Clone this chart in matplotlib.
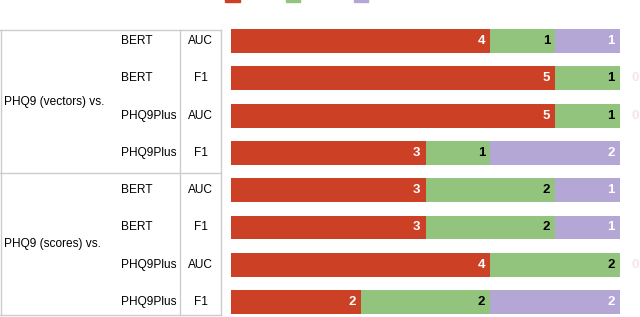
import matplotlib.pyplot as plt
from matplotlib.patches import Patch

plt.rcParams['font.family'] = ['Liberation Sans', 'DejaVu Sans']

groups = ["PHQ9 (vectors) vs.", "PHQ9 (scores) vs."]
models = ["BERT", "BERT", "PHQ9Plus", "PHQ9Plus"] * 2
metrics = ["AUC", "F1", "AUC", "F1"] * 2
win = [4, 5, 5, 3, 3, 3, 4, 2]
draw = [1, 1, 1, 1, 2, 2, 2, 2]
loss = [1, 0, 0, 2, 1, 1, 0, 2]

colors = ["#cc4125", "#93c47d", "#b4a7d6"]
txt_colors = ["white", "black", "white"]
W, H = 640, 317


def fy(p):
    return 1 - p / H


fig = plt.figure(figsize=(W / 100, H / 100), dpi=100)
ax = fig.add_axes([231 / W, 0, 389 / W, 1])
ax.set_xlim(0, 6)
ax.set_ylim(7.40, -1.10)
ax.axis("off")

rows = list(range(len(win)))
left = [0] * len(win)
for vals, c, tc in zip([win, draw, loss], colors, txt_colors):
    ax.barh(rows, vals, left=left, height=0.64, color=c, edgecolor="none")
    for r, v, l in zip(rows, vals, left):
        if v > 0:
            ax.annotate(str(v), (l + v, r), xytext=(-5, 0), textcoords="offset pixels",
                        ha="right", va="center", fontsize=9.5, fontweight="bold", color=tc)
        else:
            ax.annotate("0", (l, r), xytext=(12, 0), textcoords="offset pixels",
                        ha="left", va="center", fontsize=9.5, fontweight="bold",
                        color="#f8e4e4", annotation_clip=False)
    left = [a + b for a, b in zip(left, vals)]

# table on the left
lc = "#cccccc"
tops = [30, 173]
bottom = 315
for y in [30, 173, bottom]:
    fig.add_artist(plt.Line2D([0, 221 / W], [fy(y), fy(y)], color=lc, lw=1))
for x in [1, 180, 221]:
    fig.add_artist(plt.Line2D([x / W, x / W], [fy(30), fy(bottom)], color=lc, lw=1))

for i, g in enumerate(groups):
    y0 = tops[i]
    y1 = tops[i + 1] if i + 1 < len(tops) else bottom
    fig.text(4 / W, fy((y0 + y1) / 2), g, fontsize=8.6, ha="left", va="center")

for r, (m, k) in enumerate(zip(models, metrics)):
    py = 41 + r * 37.3
    fig.text(121 / W, fy(py), m, fontsize=8.6, ha="left", va="center")
    fig.text(200.5 / W, fy(py), k, fontsize=8.6, ha="center", va="center")

handles = [Patch(color=c) for c in colors]
fig.legend(handles, ["Win", "Draw", "Loss"], loc="center", bbox_to_anchor=(314 / W, fy(-4)),
           ncol=3, frameon=False, fontsize=8.6, handlelength=1.2, handleheight=1.2,
           columnspacing=1.35, handletextpad=0.8)

fig.savefig("out.png", dpi=100)
